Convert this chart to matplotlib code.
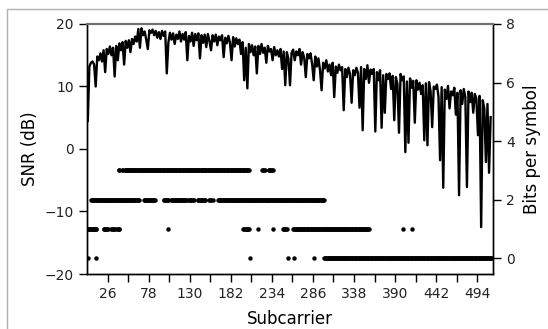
import numpy as np
import matplotlib
matplotlib.use("Agg")
import matplotlib.pyplot as plt
from matplotlib.patches import Rectangle

# SNR per subcarrier (read every 2nd subcarrier: 1, 3, 5, ..., 511)
snr_subcarriers = np.arange(1, 512, 2)
snr_db = [
    4.5, 13.2, 13.8, 14.0, 13.5, 10.0, 14.8, 14.2, 15.3, 14.0,
    15.8, 12.3, 16.0, 15.2, 16.4, 15.0, 16.2, 11.6, 16.5, 14.2,
    16.9, 15.8, 17.1, 13.5, 17.3, 16.2, 17.4, 15.5, 17.6, 16.8,
    18.0, 17.2, 19.2, 16.2, 19.3, 18.2, 18.8, 17.5, 16.0, 19.0,
    18.6, 19.1, 18.2, 18.9, 17.8, 18.7, 17.6, 18.9, 18.1, 18.8,
    12.1, 17.0, 18.6, 17.5, 18.5, 16.8, 18.3, 17.6, 18.8, 17.2,
    18.4, 17.5, 18.7, 14.2, 18.1, 17.2, 18.6, 16.5, 18.4, 17.4,
    18.5, 14.5, 18.2, 17.0, 18.3, 16.3, 18.4, 17.3, 15.8, 18.2,
    17.2, 18.3, 16.6, 18.0, 17.4, 18.2, 14.7, 17.8, 16.9, 18.1,
    17.0, 14.2, 17.9, 16.4, 17.7, 16.8, 17.5, 15.2, 17.1, 11.0,
    16.2, 9.7, 16.8, 15.5, 16.6, 15.0, 16.4, 12.1, 16.5, 15.2,
    16.8, 15.4, 16.2, 13.8, 16.5, 15.6, 16.0, 14.2, 16.3, 15.0,
    15.8, 14.8, 16.0, 12.8, 15.6, 10.2, 15.5, 14.4, 10.2, 15.4,
    15.9, 14.2, 15.6, 15.0, 16.0, 13.5, 15.5, 14.6, 11.5, 15.2,
    14.5, 15.3, 13.6, 11.0, 14.8, 13.2, 14.5, 12.6, 9.4, 13.8,
    12.9, 14.2, 12.4, 13.5, 11.8, 13.8, 8.3, 13.2, 12.2, 13.5,
    12.6, 13.1, 6.2, 12.8, 11.5, 13.0, 12.0, 7.4, 12.6, 11.8,
    13.0, 12.2, 6.6, 13.1, 3.0, 12.8, 11.2, 13.4, 10.6, 12.7,
    12.0, 12.8, 2.8, 12.3, 11.0, 12.6, 3.4, 11.8, 5.8, 12.0,
    11.2, 12.1, 9.6, 11.7, 4.6, 11.5, 10.4, 2.6, 12.0, 11.0,
    11.6, -0.5, 10.8, 1.0, 11.3, 9.8, 10.9, 4.2, 11.0, 9.5,
    10.6, 8.8, 10.2, 1.4, 10.5, 0.6, 10.7, 9.2, 3.5, 10.0,
    9.6, 10.3, 8.4, -1.8, 9.9, -6.2, 9.5, 8.0, 10.1, 6.5,
    9.2, 8.6, 9.8, 5.5, 9.0, -7.4, 9.4, 7.2, 9.6, 8.3,
    -6.1, 9.2, 7.5, 9.0, 5.8, 8.8, 8.0, 2.2, 8.5, -12.5,
    7.8, 6.5, -2.1, 7.2, -3.8, 5.1,
]

# bit loading: subcarrier ranges (first, last) carrying each number of bits
bits_levels = [3, 2, 1, 0]
bits3_ranges = [(40, 41), (44, 45), (48, 205), (222, 225), (230, 235)]
bits2_ranges = [(5, 66), (72, 86), (97, 103), (106, 126), (129, 135),
                (140, 150), (155, 157), (160, 160), (166, 300)]
bits1_ranges = [(1, 12), (21, 26), (31, 35), (38, 41), (103, 103),
                (198, 205), (216, 216), (235, 235), (248, 253),
                (261, 357), (400, 400), (411, 411)]
bits0_ranges = [(1, 1), (12, 12), (206, 206), (254, 254), (262, 262),
                (287, 287), (300, 512)]

x_ticks_labeled = [26, 78, 130, 182, 234, 286, 338, 390, 442, 494]
x_ticks_minor = [52, 104, 156, 208, 260, 312, 364, 416, 468]

fig = plt.figure(figsize=(5.48, 3.29), dpi=100)
# light frame around the picture
fig.patches.append(Rectangle((7 / 548, -0.05), 1.1, 1 - 9 / 329 + 0.05,
                             transform=fig.transFigure, fill=False,
                             edgecolor="#b0b0b0", linewidth=1.0))

ax = fig.add_axes([87 / 548, 1 - 274 / 329, (493 - 87) / 548, (274 - 24) / 329])
ax2 = ax.twinx()

ax.plot(snr_subcarriers, snr_db, color="black", linewidth=1.7, zorder=3)

for level, ranges in zip(bits_levels, [bits3_ranges, bits2_ranges,
                                       bits1_ranges, bits0_ranges]):
    for first, last in ranges:
        xs = np.arange(first, last + 1)
        ax2.plot(xs, [level] * len(xs), "o", color="black",
                 markersize=3.2, markeredgewidth=0)

ax.set_xlim(0, 514)
ax.set_ylim(-20, 20)
ax2.set_ylim(-0.547, 8)

ax.set_xticks(x_ticks_labeled)
ax.set_xticks(x_ticks_minor, minor=True)
ax.set_yticks([-20, -10, 0, 10, 20])
ax2.set_yticks([0, 2, 4, 6, 8])

for a in (ax, ax2):
    a.tick_params(which="both", direction="out", length=6, width=1,
                  labelsize=10, colors="black")
    a.tick_params(labelcolor="#222222")

ax.set_xlabel("Subcarrier", fontsize=12, labelpad=6)
ax.set_ylabel("SNR (dB)", fontsize=12, labelpad=4)
ax2.set_ylabel("Bits per symbol", fontsize=12, labelpad=6)

for a in (ax, ax2):
    a.spines["top"].set_color("#707070")
    a.spines["top"].set_linewidth(1.5)
    for side in ("left", "right", "bottom"):
        a.spines[side].set_color("black")
        a.spines[side].set_linewidth(1.0)

fig.savefig("out.png", dpi=100)
